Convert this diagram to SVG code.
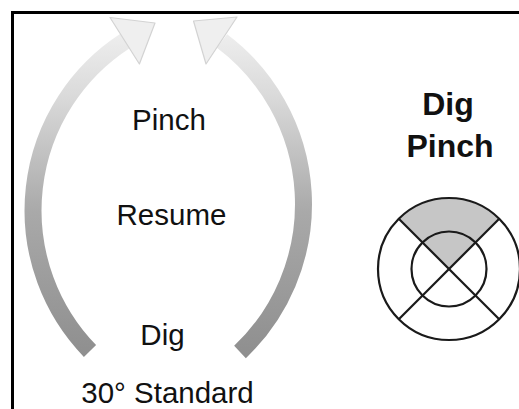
<svg xmlns="http://www.w3.org/2000/svg" width="519" height="409" viewBox="0 0 519 409">
<defs>
<linearGradient id="bandGrad" gradientUnits="userSpaceOnUse" x1="0" y1="360" x2="0" y2="30">
<stop offset="0" stop-color="#8e8e8e"/>
<stop offset="0.45" stop-color="#a9a9a9"/>
<stop offset="0.8" stop-color="#dadada"/>
<stop offset="1" stop-color="#efefef"/>
</linearGradient>
</defs>
<style>
.band{fill:none;stroke:url(#bandGrad);stroke-width:17;stroke-linecap:butt}
.head{fill:#efefef;stroke:#d3d3d3;stroke-width:1.2;stroke-linejoin:round}
.lbl{font-family:"Liberation Sans",Arial,sans-serif;font-size:29.5px;fill:#111;text-anchor:middle}
.bold{font-family:"Liberation Sans",Arial,sans-serif;font-size:32px;font-weight:bold;fill:#111;text-anchor:middle}
.ring{fill:none;stroke:#1a1a1a;stroke-width:2.2}
</style>
<rect x="0" y="0" width="519" height="409" fill="#ffffff"/>
<path d="M12.5 420 V12.5 H530" fill="none" stroke="#000" stroke-width="3"/>
<g id="connectors">
<g id="arrow-left">
<path class="band" d="M90 351 A202 202 0 0 1 125 41"/>
<polygon class="head" points="110,17.5 155,23 139.4,64"/>
</g>
<g id="arrow-right">
<path class="band" d="M240 352 A204 204 0 0 0 222 41"/>
<polygon class="head" points="237,17 193.5,21 206,64"/>
</g>
</g>
<g id="label-pinch"><text class="lbl" x="169" y="130">Pinch</text></g>
<g id="label-resume"><text class="lbl" x="171.5" y="225">Resume</text></g>
<g id="label-dig"><text class="lbl" x="162.5" y="345">Dig</text></g>
<g id="label-standard"><text class="lbl" x="167.5" y="403">30° Standard</text></g>
<g id="title"><text class="bold" x="448" y="115">Dig</text><text class="bold" x="450" y="157">Pinch</text></g>
<g id="target">
<path d="M449 269 L399 219 A71 71 0 0 1 499 219 Z" fill="#c6c6c6"/>
<circle class="ring" cx="449" cy="269" r="71"/>
<circle class="ring" cx="449" cy="269" r="37.5"/>
<line class="ring" x1="398.8" y1="218.8" x2="499.2" y2="319.2"/>
<line class="ring" x1="499.2" y1="218.8" x2="398.8" y2="319.2"/>
</g>
</svg>
